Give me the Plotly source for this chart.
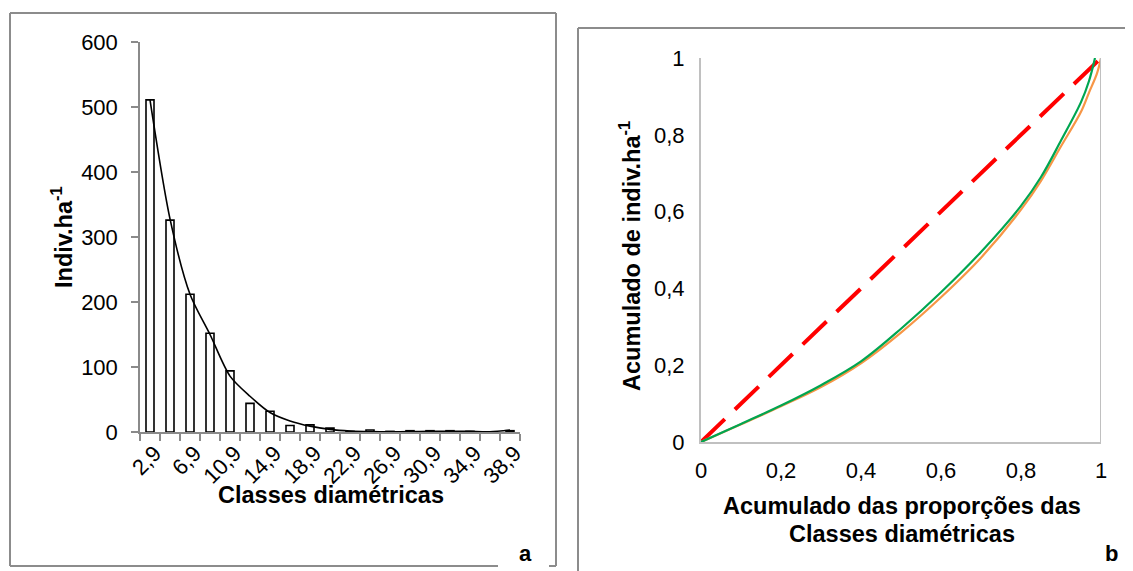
import plotly.graph_objects as go

# the page body has an 8px margin; the figure is sized so that it fills the window exactly
OFF = 8
W, H = 1133 - OFF, 571 - OFF

# ---------- data: chart a ----------
classes = ["2,9", "4,9", "6,9", "8,9", "10,9", "12,9", "14,9", "16,9", "18,9", "20,9",
           "22,9", "24,9", "26,9", "28,9", "30,9", "32,9", "34,9", "36,9", "38,9"]
observed = [511, 326, 212, 152, 94, 44, 32, 10, 11, 6, 1, 3, 1, 2, 2, 2, 1, 0, 2]
fitted = [511, 328, 212, 150, 86, 55, 30, 17, 9, 4, 1.5, 0.6, 0.4, 0.6, 1.0, 1.2, 0.9, 0.5, 3]
y_ticks_a = [0, 100, 200, 300, 400, 500, 600]

# ---------- data: chart b ----------
prop_green = [0, 0.1, 0.2, 0.3, 0.4, 0.5, 0.6, 0.7, 0.8, 0.85, 0.9, 0.95, 0.97, 0.985]
cum_green = [0, 0.047, 0.095, 0.148, 0.21, 0.295, 0.39, 0.495, 0.615, 0.69, 0.785, 0.885, 0.94, 1.0]
prop_orange = [0, 0.1, 0.2, 0.3, 0.4, 0.5, 0.6, 0.7, 0.8, 0.85, 0.9, 0.95, 0.97, 0.99, 1.0]
cum_orange = [0, 0.046, 0.093, 0.143, 0.205, 0.285, 0.377, 0.48, 0.605, 0.68, 0.77, 0.86, 0.91, 0.96, 1.0]
equality_x = [0, 1]
equality_y = [0, 1]
b_ticks = [0, 0.2, 0.4, 0.6, 0.8, 1]
b_ticktext = ["0", "0,2", "0,4", "0,6", "0,8", "1"]

FONT = "Liberation Sans, Arial, sans-serif"
TICK = 22
TITLE = 23.5
AXC = "#8a8a8a"

idx = list(range(len(classes)))

fig = go.Figure()

fig.add_trace(go.Bar(x=idx, y=observed, width=0.4, marker=dict(color="white", line=dict(color="black", width=1.6)),
                     xaxis="x", yaxis="y", showlegend=False, hoverinfo="skip"))
fig.add_trace(go.Scatter(x=idx, y=fitted, mode="lines", line=dict(color="black", width=1.6, shape="spline", smoothing=0.8),
                         xaxis="x", yaxis="y", showlegend=False))
# invisible trace so the label axis is drawn
fig.add_trace(go.Scatter(x=idx, y=[0] * len(idx), mode="markers", marker=dict(opacity=0),
                         xaxis="x3", yaxis="y", showlegend=False, hoverinfo="skip"))

fig.add_trace(go.Scatter(x=equality_x, y=equality_y, mode="lines",
                         line=dict(color="#ff0000", width=4, dash="33px,14px"),
                         xaxis="x2", yaxis="y2", showlegend=False))
fig.add_trace(go.Scatter(x=prop_orange, y=cum_orange, mode="lines",
                         line=dict(color="#f79646", width=2.2, shape="spline", smoothing=1.0),
                         xaxis="x2", yaxis="y2", showlegend=False))
fig.add_trace(go.Scatter(x=prop_green, y=cum_green, mode="lines",
                         line=dict(color="#00a651", width=2.2, shape="spline", smoothing=1.0),
                         xaxis="x2", yaxis="y2", showlegend=False))


def fx(xp):
    return (xp - OFF) / W


def fy(yp):
    return 1 - (yp - OFF) / H


xa = [fx(140), fx(520)]
ya = [fy(432), fy(42)]
xb = [fx(701), fx(1101)]
yb = [fy(442), fy(58)]

common = dict(automargin=False, showgrid=False, zeroline=False, fixedrange=True)

fig.update_layout(
    template="plotly_white",
    width=W, height=H, margin=dict(l=0, r=0, t=0, b=0, pad=0, autoexpand=False),
    paper_bgcolor="white", plot_bgcolor="white",
    font=dict(family=FONT, size=TICK, color="black"),
    xaxis=dict(domain=xa, anchor="y", range=[-0.5, len(classes) - 0.5],
               tickvals=[i - 0.5 for i in range(len(classes) + 1)], showticklabels=False,
               ticks="outside", ticklen=7, tickwidth=1.5, tickcolor=AXC,
               showline=True, linecolor=AXC, linewidth=1.5, **common),
    xaxis3=dict(domain=xa, anchor="y", overlaying="x", range=[-0.5, len(classes) - 0.5],
                tickvals=idx[::2], ticktext=classes[::2], tickangle=-45, showticklabels=True,
                ticks="", ticklabelstandoff=3, ticklabelshift=5,
                tickfont=dict(size=TICK, family=FONT, color="black"),
                showline=False, **common),
    yaxis=dict(domain=ya, anchor="x", range=[0, 600], tickvals=y_ticks_a,
               ticks="outside", ticklen=7, tickwidth=1.5, tickcolor=AXC, ticklabelstandoff=9,
               showline=True, linecolor=AXC, linewidth=1.5,
               tickfont=dict(size=TICK, family=FONT, color="black"), **common),
    xaxis2=dict(domain=xb, anchor="y2", range=[0, 1], tickvals=b_ticks, ticktext=b_ticktext,
                ticks="outside", ticklen=8, tickcolor="rgba(0,0,0,0)",
                showline=True, linecolor="#c0c0c0", linewidth=2,
                tickfont=dict(size=TICK, family=FONT, color="black"), **common),
    yaxis2=dict(domain=yb, anchor="x2", range=[0, 1], tickvals=b_ticks, ticktext=b_ticktext,
                ticks="outside", ticklen=10, tickcolor="rgba(0,0,0,0)",
                showline=True, linecolor="#c0c0c0", linewidth=2,
                tickfont=dict(size=TICK, family=FONT, color="black"), **common),
)

shapes = []


def seg(x0, y0, x1, y1, color="#8c8c8c", width=2):
    shapes.append(dict(type="line", xref="paper", yref="paper", x0=fx(x0), y0=fy(y0), x1=fx(x1), y1=fy(y1),
                       line=dict(color=color, width=width)))


# frame a (bottom broken by label "a")
seg(10, 13, 556, 13)
seg(10, 13, 10, 566)
seg(556, 13, 556, 566)
seg(10, 566, 498, 566)
seg(549, 566, 556, 566)
# frame b
seg(578, 28, 1140, 28)
seg(578, 28, 578, 580)
fig.update_layout(shapes=shapes)
# right boundary line of plot b at x=1
fig.add_shape(type="line", xref="x2", yref="y2 domain", x0=1, x1=1, y0=0, y1=1,
              line=dict(color="#c0c0c0", width=2))


def ann(text, xp, yp, size=TITLE, angle=0, bold=True):
    fig.add_annotation(text=f"<b>{text}</b>" if bold else text, x=fx(xp), y=fy(yp), xref="paper", yref="paper",
                       showarrow=False, textangle=angle, font=dict(family=FONT, size=size, color="black"),
                       xanchor="center", yanchor="middle")


ann("Indiv.ha<sup>-1</sup>", 62, 237, angle=-90)
ann("Classes diamétricas", 331, 495)
ann("Acumulado de indiv.ha<sup>-1</sup>", 630, 256, angle=-90)
ann("Acumulado das proporções das", 902, 506)
ann("Classes diamétricas", 902, 534)
ann("a", 525, 553, size=22)
ann("b", 1111, 553, size=22)

fig.write_html("out.html")
